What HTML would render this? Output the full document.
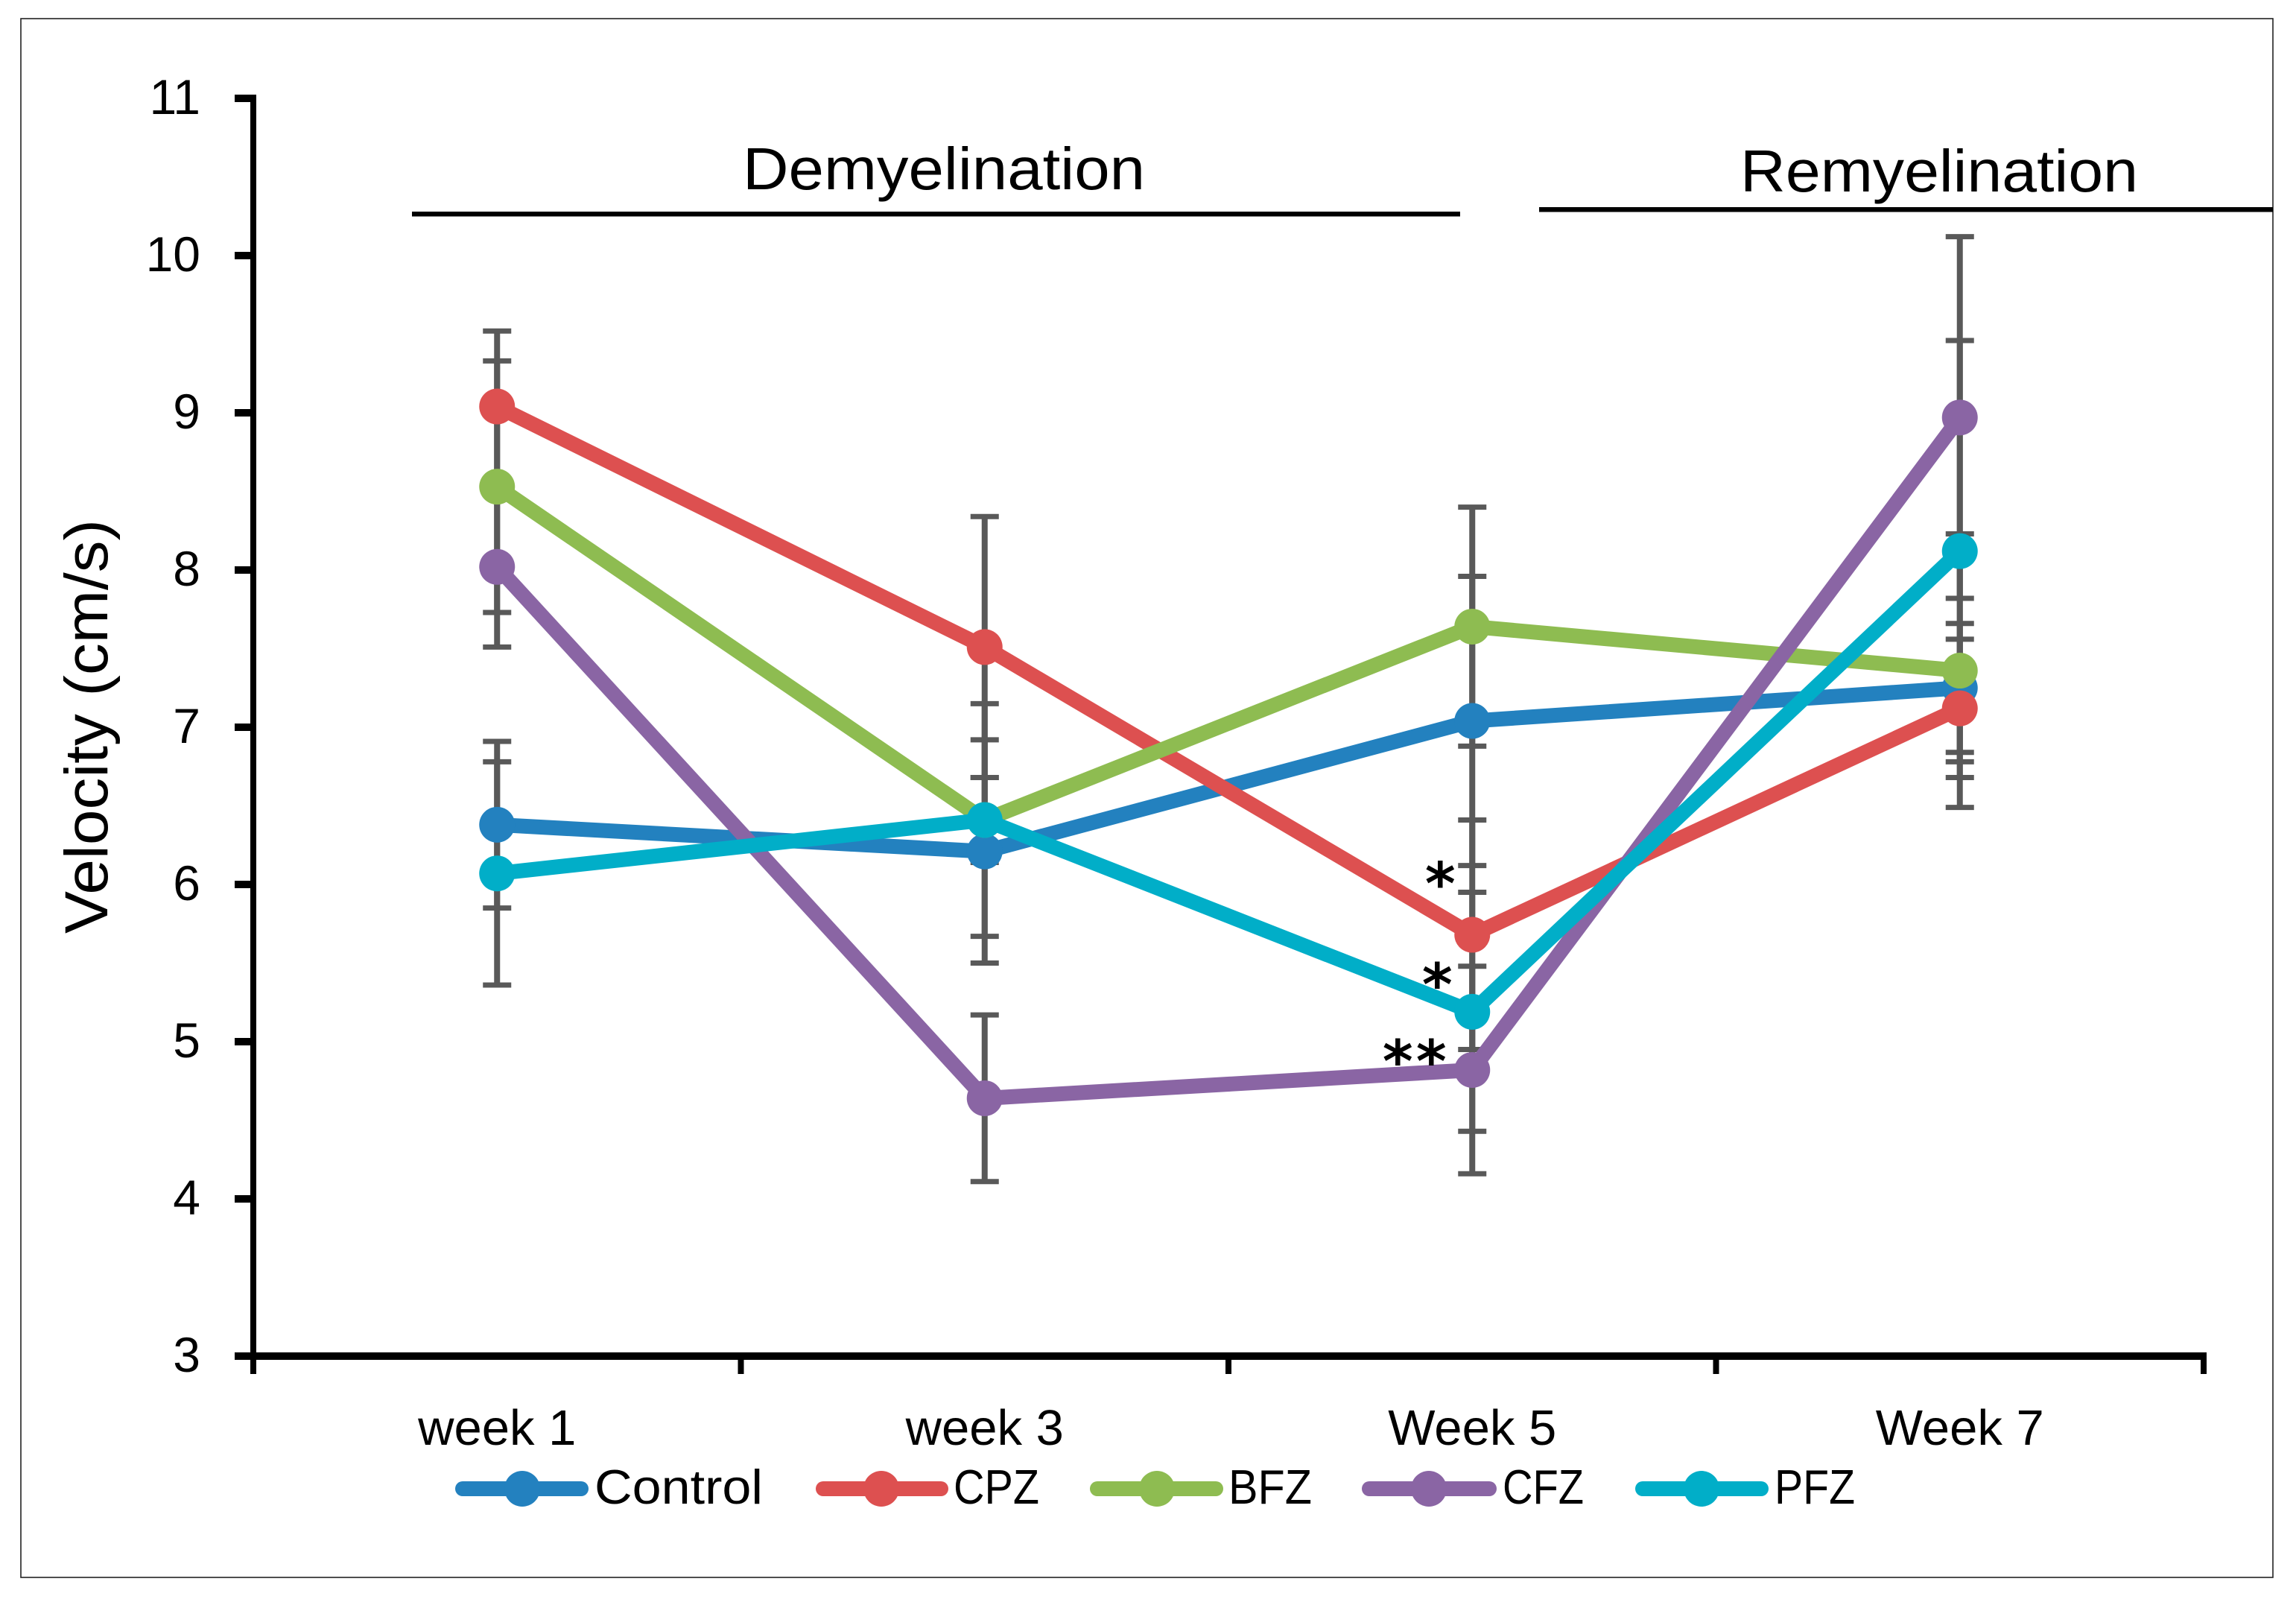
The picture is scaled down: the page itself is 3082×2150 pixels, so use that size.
<!DOCTYPE html>
<html>
<head>
<meta charset="utf-8">
<title>Velocity chart</title>
<style>
html,body{margin:0;padding:0;background:#fff;}
svg{display:block;}
text{font-family:"Liberation Sans",sans-serif;fill:#000;}
</style>
</head>
<body>
<svg id="chart" xmlns="http://www.w3.org/2000/svg" width="3082" height="2150" viewBox="0 0 3082 2150">
  <rect x="0" y="0" width="3082" height="2150" fill="#fff"/>
  <rect x="28" y="25" width="3023" height="2092" fill="none" stroke="#222" stroke-width="1.6"/>

  <g id="errors"></g>
  <g id="series"></g>
  <g id="axes"></g>
  <g id="stars"></g>

  <text transform="translate(144 1253) rotate(-90)" font-size="82" textLength="556" lengthAdjust="spacingAndGlyphs">Velocity (cm/s)</text>

  <text x="997" y="254" font-size="80" textLength="540" lengthAdjust="spacingAndGlyphs">Demyelination</text>
  <rect x="553" y="284" width="1407" height="6.5" fill="#000"/>
  <text x="2336" y="257" font-size="80" textLength="534" lengthAdjust="spacingAndGlyphs">Remyelination</text>
  <rect x="2066" y="278" width="985" height="6.5" fill="#000"/>

  <g>
    <g>
      <line x1="621" y1="1998" x2="780" y2="1998" stroke="#2381bf" stroke-width="20" stroke-linecap="round"/>
      <circle cx="701" cy="1998" r="24" fill="#2381bf"/>
      <text x="798" y="2018" font-size="65" textLength="226" lengthAdjust="spacingAndGlyphs">Control</text>
    </g>
    <g>
      <line x1="1105" y1="1998" x2="1263" y2="1998" stroke="#dd5050" stroke-width="20" stroke-linecap="round"/>
      <circle cx="1183" cy="1998" r="24" fill="#dd5050"/>
      <text x="1280" y="2018" font-size="65" textLength="115" lengthAdjust="spacingAndGlyphs">CPZ</text>
    </g>
    <g>
      <line x1="1473" y1="1998" x2="1632" y2="1998" stroke="#8ebc51" stroke-width="20" stroke-linecap="round"/>
      <circle cx="1553" cy="1998" r="24" fill="#8ebc51"/>
      <text x="1649" y="2018" font-size="65" textLength="112" lengthAdjust="spacingAndGlyphs">BFZ</text>
    </g>
    <g>
      <line x1="1838" y1="1998" x2="1999" y2="1998" stroke="#8a65a4" stroke-width="20" stroke-linecap="round"/>
      <circle cx="1918" cy="1998" r="24" fill="#8a65a4"/>
      <text x="2017" y="2018" font-size="65" textLength="109" lengthAdjust="spacingAndGlyphs">CFZ</text>
    </g>
    <g>
      <line x1="2205" y1="1998" x2="2364" y2="1998" stroke="#01aec8" stroke-width="20" stroke-linecap="round"/>
      <circle cx="2284" cy="1998" r="24" fill="#01aec8"/>
      <text x="2382" y="2018" font-size="65" textLength="108" lengthAdjust="spacingAndGlyphs">PFZ</text>
    </g>
  </g>
</svg>
<script>
var categories = ["week 1", "week 3", "Week 5", "Week 7"];
var yTickLabels = [3, 4, 5, 6, 7, 8, 9, 10, 11];

var controlValues = [6.38, 6.21, 7.04, 7.25];
var cpzValues = [9.04, 7.51, 5.68, 7.12];
var bfzValues = [8.53, 6.41, 7.64, 7.36];
var cfzValues = [8.02, 4.64, 4.82, 8.97];
var pfzValues = [6.07, 6.41, 5.19, 8.12];

var controlError = [0.53, 0.71, 0.92, 0.41];
var cpzError = [0.48, 0.83, 0.73, 0.44];
var bfzError = [0.80, 0.74, 0.76, 0.87];
var cfzError = [0.51, 0.53, 0.66, 1.15];
var pfzError = [0.71, 0.27, 0.76, 1.34];

var seriesNames = ["control", "cpz", "bfz", "cfz", "pfz"];
var seriesValues = [controlValues, cpzValues, bfzValues, cfzValues, pfzValues];
var seriesErrors = [controlError, cpzError, bfzError, cfzError, pfzError];
var seriesColors = ["#2381bf", "#dd5050", "#8ebc51", "#8a65a4", "#01aec8"];

var NS = "http://www.w3.org/2000/svg";
var plotLeft = 340, plotRight = 2958, plotBottom = 1820, plotTop = 132;
var yMin = 3, yMax = 11;

function yScale(v) {
  return plotBottom - (v - yMin) * (plotBottom - plotTop) / (yMax - yMin);
}
function xBand() {
  return (plotRight - plotLeft) / categories.length;
}
function xScale(i) {
  return plotLeft + xBand() * (i + 0.5);
}
function make(tag, attrs, parent) {
  var n = document.createElementNS(NS, tag);
  for (var k in attrs) { n.setAttribute(k, attrs[k]); }
  parent.appendChild(n);
  return n;
}

var errorsG = document.getElementById("errors");
var seriesG = document.getElementById("series");
var axesG = document.getElementById("axes");
var starsG = document.getElementById("stars");

/* error bars */
seriesValues.forEach(function (vals, s) {
  vals.forEach(function (v, i) {
    var x = xScale(i);
    var hi = yScale(v + seriesErrors[s][i]);
    var lo = yScale(v - seriesErrors[s][i]);
    var stem = make("line", {x1: x, x2: x, y1: hi, y2: lo, stroke: "#595959", "stroke-width": 8}, errorsG);
    
    
    [hi, lo].forEach(function (cy) {
      var cap = make("line", {x1: x - 19, x2: x + 19, y1: cy, y2: cy, stroke: "#595959", "stroke-width": 7}, errorsG);
      
      
    });
  });
});

/* lines and markers */
seriesValues.forEach(function (vals, s) {
  var g = make("g", {}, seriesG);
  
  
  var pts = vals.map(function (v, i) { return xScale(i) + "," + yScale(v); }).join(" ");
  var line = make("polyline", {points: pts, fill: "none", stroke: seriesColors[s], "stroke-width": 20, "stroke-linejoin": "round"}, g);
  
  
  vals.forEach(function (v, i) {
    var c = make("circle", {cx: xScale(i), cy: yScale(v), r: 24, fill: seriesColors[s]}, g);
    
    
  });
});

/* axes */
var yAxisLine = make("rect", {x: 336, y: plotTop - 5, width: 8, height: plotBottom - plotTop + 10, fill: "#000"}, axesG);


var xAxisLine = make("rect", {x: 336, y: plotBottom - 5, width: plotRight - 336 + 4, height: 10, fill: "#000"}, axesG);



yTickLabels.forEach(function (t) {
  var y = yScale(t);
  var tick = make("rect", {x: 315, y: y - 5, width: 25, height: 10, fill: "#000"}, axesG);
  
  
  var label = make("text", {x: 269, y: y + 21, "font-size": 66, "text-anchor": "end"}, axesG);
  label.textContent = t;
  
  
});

for (var k = 0; k <= categories.length; k++) {
  var tx = plotLeft + xBand() * k;
  var xt = make("rect", {x: tx - 4, y: plotBottom, width: 8, height: 24, fill: "#000"}, axesG);
  
  
}

categories.forEach(function (c, i) {
  var lab = make("text", {x: xScale(i), y: 1939, "font-size": 67, "text-anchor": "middle"}, axesG);
  lab.textContent = c;
  
  
});

/* significance asterisks anchored to the Week 5 points */
function star(seriesVals, dx, dy) {
  var t = make("text", {x: xScale(2) + dx, y: yScale(seriesVals[2]) + dy, "font-size": 78, "font-weight": "bold", "text-anchor": "middle"}, starsG);
  t.setAttribute("style", 'font-family:"DejaVu Sans",sans-serif');
  t.textContent = "*";
  
  
}
star(cpzValues, -43, -41);
star(pfzValues, -47, -9);
star(cfzValues, -100, 16);
star(cfzValues, -55, 16);
</script>
</body>
</html>
